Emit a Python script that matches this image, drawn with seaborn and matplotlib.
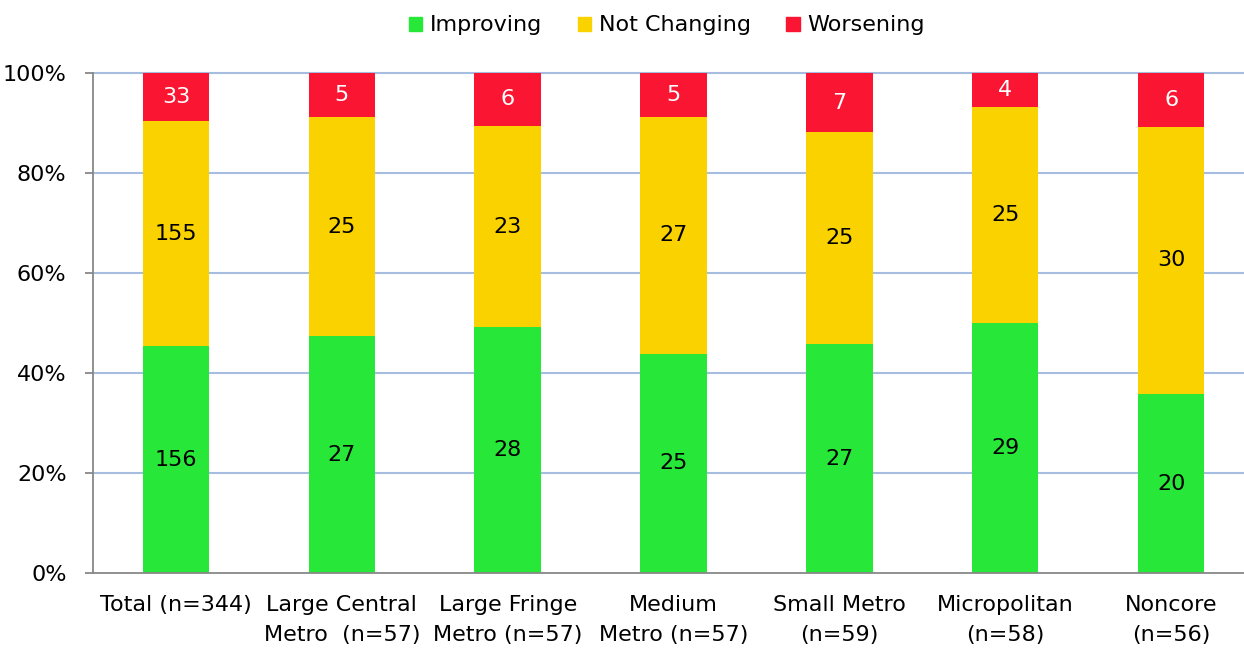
import numpy as np
import pandas as pd
import seaborn as sns
import matplotlib.pyplot as plt
from matplotlib.patches import Patch

categories = ['Total (n=344)', 'Large Central\nMetro  (n=57)', 'Large Fringe\nMetro (n=57)',
              'Medium\nMetro (n=57)', 'Small Metro\n(n=59)', 'Micropolitan\n(n=58)', 'Noncore\n(n=56)']
improving = [156, 27, 28, 25, 27, 29, 20]
not_changing = [155, 25, 23, 27, 25, 25, 30]
worsening = [33, 5, 6, 5, 7, 4, 6]

series = ['Improving', 'Not Changing', 'Worsening']
colors = ['#27e838', '#f9d200', '#fa1632']
text_colors = ['black', 'black', 'white']

counts = pd.DataFrame({'Improving': improving, 'Not Changing': not_changing,
                       'Worsening': worsening}, index=categories)
pct = counts.div(counts.sum(axis=1), axis=0) * 100

sns.set_style('white')
plt.rcParams['font.family'] = ['DejaVu Sans']
plt.rcParams['text.color'] = 'black'
plt.rcParams['xtick.color'] = 'black'
plt.rcParams['ytick.color'] = 'black'
fs = 16

fig = plt.figure(figsize=(12.44, 6.5), dpi=100)
ax = fig.add_axes([93 / 1244, 1 - 573 / 650, 1161 / 1244, 500 / 650])

for y in range(20, 101, 20):
    ax.axhline(y, color='#a6bde0', lw=1.5, zorder=0, clip_on=False)

bottom = np.zeros(len(categories))
for s, c, tc in zip(series, colors, text_colors):
    sns.barplot(x=categories, y=pct[s].values, bottom=bottom, color=c, width=0.4,
                saturation=1, linewidth=0, ax=ax, zorder=2)
    for i, (v, n) in enumerate(zip(pct[s].values, counts[s].values)):
        ax.text(i, bottom[i] + v / 2, str(n), ha='center', va='center',
                fontsize=fs, color=tc, zorder=3)
    bottom += pct[s].values

ax.set_xlim(-0.5, len(categories) - 0.5)
ax.set_ylim(0, 100)
ax.set_yticks(range(0, 101, 20))
ax.set_yticklabels([f'{v}%' for v in range(0, 101, 20)], fontsize=fs)
ax.set_xticks(range(len(categories)))
ax.set_xticklabels(categories, fontsize=fs, linespacing=1.6)
ax.set_xticks(np.arange(-0.5, len(categories)), minor=True)
ax.tick_params(axis='x', which='major', length=0, pad=16)
ax.tick_params(axis='x', which='minor', length=6, color='#888888', width=1.3)
ax.tick_params(axis='y', length=6, color='#888888', labelcolor='black', width=1.3,
               left=True, pad=13)
ax.tick_params(axis='x', labelcolor='black')

for side in ['top', 'right']:
    ax.spines[side].set_visible(False)
for side in ['left', 'bottom']:
    ax.spines[side].set_color('#888888')
    ax.spines[side].set_linewidth(1.3)

handles = [Patch(color=c, label=s) for s, c in zip(series, colors)]
fig.legend(handles=handles, loc='upper center', bbox_to_anchor=(0.536, 1.007), ncol=3,
           frameon=False, fontsize=fs, handlelength=0.6, handleheight=0.6,
           handletextpad=0.35, columnspacing=1.6, labelcolor='black')

fig.savefig('out.png', dpi=100)
